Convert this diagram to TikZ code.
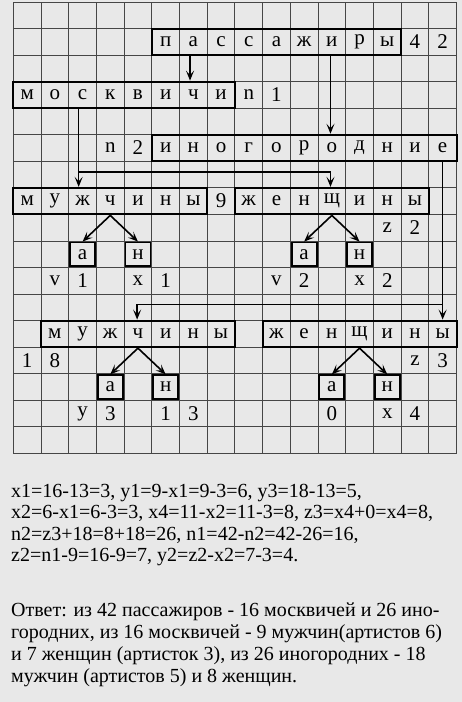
\documentclass[tikz,border=0pt]{standalone}
\usepackage{fontspec}
\setmainfont{Liberation Serif}
\usetikzlibrary{arrows.meta,calc}
\definecolor{paper}{RGB}{232,232,232}
\definecolor{gridc}{RGB}{70,70,70}
\newcommand\wordrow[4]{%
  \foreach \ch [count=\k from 0] in {#4} {\node[cell] (#1-\k) at ({#2+\k+0.5},{#3+0.5}) {\ch};}%
}
\newcommand\wbox[4]{%
  \node[wordbox, minimum width={#3*27.7pt}, minimum height=26.55pt] (#1) at ({#2+#3/2},{#4+0.5}) {};%
}
\newcommand\val[4]{\node[cell] (#1) at ({#2+0.5},{#3+0.5}) {#4};}
\begin{document}
\begin{tikzpicture}[x=1pt,y=-1pt,
  gridline/.style={draw=gridc, line width=0.9pt},
  wordbox/.style={draw=black, line width=2pt, inner sep=0pt},
  cell/.style={inner sep=0pt, font=\fontsize{21}{22}\selectfont},
  smallbox/.style={draw=black, line width=1.8pt, inner sep=0pt, minimum width=25pt, minimum height=23.5pt, font=\fontsize{21}{22}\selectfont},
  conn/.style={line width=1.6pt, -{Stealth[length=10pt,width=8pt,inset=4.5pt]}},
  body/.style={anchor=base west, inner sep=0pt, font=\fontsize{20}{21}\selectfont}
]
\fill[paper] (0,0) rectangle (462,702);
\useasboundingbox (0,0) rectangle (462,702);
\begin{scope}[shift={(13.3,2)}, x=27.7pt, y=-26.55pt]
  \foreach \i in {0,...,16} {\draw[gridline] (\i,0) -- (\i,17);}
  \foreach \j in {0,...,17} {\draw[gridline] (0,\j) -- (16,\j);}
  % words
  \wordrow{pass}{5}{1}{п,а,с,с,а,ж,и,р,ы}
  \wbox{passbox}{5}{9}{1}
  \val{v42a}{14}{1}{4}\val{v42b}{15}{1}{2}
  \wordrow{mosk}{0}{3}{м,о,с,к,в,и,ч,и}
  \wbox{moskbox}{0}{8}{3}
  \val{n1a}{8}{3}{n}\val{n1b}{9}{3}{1}
  \val{n2a}{3}{5}{n}\val{n2b}{4}{5}{2}
  \wordrow{inog}{5}{5}{и,н,о,г,о,р,о,д,н,и,е}
  \wbox{inogbox}{5}{11}{5}
  \wordrow{ma}{0}{7}{м,у,ж,ч,и,н,ы}
  \wbox{mbox7}{0}{7}{7}
  \val{nine}{7}{7}{9}
  \wordrow{wa}{8}{7}{ж,е,н,щ,и,н,ы}
  \wbox{wbox7}{8}{7}{7}
  \val{z2a}{13}{8}{z}\val{z2b}{14}{8}{2}
  \node[smallbox] (a1) at (2.5,9.5) {а};
  \node[smallbox] (h1) at (4.5,9.5) {н};
  \node[smallbox] (a2) at (10.5,9.5) {а};
  \node[smallbox] (h2) at (12.5,9.5) {н};
  \val{r10a}{1}{10}{v}\val{r10b}{2}{10}{1}\val{r10c}{4}{10}{x}\val{r10d}{5}{10}{1}
  \val{r10e}{9}{10}{v}\val{r10f}{10}{10}{2}\val{r10g}{12}{10}{x}\val{r10h}{13}{10}{2}
  \wordrow{mb}{1}{12}{м,у,ж,ч,и,н,ы}
  \wbox{mbox12}{1}{7}{12}
  \wordrow{wb}{9}{12}{ж,е,н,щ,и,н,ы}
  \wbox{wbox12}{9}{7}{12}
  \val{r13a}{0}{13}{1}\val{r13b}{1}{13}{8}\val{r13c}{14}{13}{z}\val{r13d}{15}{13}{3}
  \node[smallbox] (a3) at (3.5,14.5) {а};
  \node[smallbox] (h3) at (5.5,14.5) {н};
  \node[smallbox] (a4) at (11.5,14.5) {а};
  \node[smallbox] (h4) at (13.5,14.5) {н};
  \val{r15a}{2}{15}{y}\val{r15b}{3}{15}{3}\val{r15c}{5}{15}{1}\val{r15d}{6}{15}{3}
  \val{r15e}{11}{15}{0}\val{r15f}{13}{15}{x}\val{r15g}{14}{15}{4}
  % connector coordinates
  \coordinate (px1) at (6.38,0);
  \coordinate (px2) at (11.45,0);
  \coordinate (mx) at (2.36,0);
  \coordinate (br1) at (0,6.4);
  \coordinate (ix) at (15.5,0);
  \coordinate (br2) at (0,11.4);
  \coordinate (mx2) at (4.47,0);
  \draw[conn] (px1 |- passbox.south) -- (px1 |- moskbox.north);
  \draw[conn] (px2 |- passbox.south) -- (px2 |- inogbox.north);
  \draw[conn] (mx |- moskbox.south) -- (mx |- mbox7.north);
  \draw[conn] (mx |- br1) -- (px2 |- br1) -- (px2 |- wbox7.north);
  \draw[conn] (ix |- inogbox.south) -- (ix |- wbox12.north);
  \draw[conn] (ix |- br2) -- (mx2 |- br2) -- (mx2 |- mbox12.north);
  % V arrows
  \coordinate (ap1) at (ma-3 |- mbox7.south);
  \coordinate (ap2) at (wa-3 |- wbox7.south);
  \coordinate (ap3) at (mb-3 |- mbox12.south);
  \coordinate (ap4) at (wb-3 |- wbox12.south);
  \draw[conn] (ap1) -- (a1.north); \draw[conn] (ap1) -- (h1.north);
  \draw[conn] (ap2) -- (a2.north); \draw[conn] (ap2) -- (h2.north);
  \draw[conn] (ap3) -- (a3.north); \draw[conn] (ap3) -- (h3.north);
  \draw[conn] (ap4) -- (a4.north); \draw[conn] (ap4) -- (h4.north);
\end{scope}
% bottom text
\node[body] (t1) at (11,497) {x1=16-13=3, y1=9-x1=9-3=6, y3=18-13=5,};
\node[body] (t2) at (11,518.5) {x2=6-x1=6-3=3, x4=11-x2=11-3=8, z3=x4+0=x4=8,};
\node[body] (t3) at (11,540) {n2=z3+18=8+18=26, n1=42-n2=42-26=16,};
\node[body] (t4) at (11,561.5) {z2=n1-9=16-9=7, y2=z2-x2=7-3=4.};
\node[body] (o1) at (11,616) {Ответ: из 42 пассажиров - 16 москвичей и 26 ино-};
\node[body] (o2) at (11,638) {городних, из 16 москвичей - 9 мужчин(артистов 6)};
\node[body] (o3) at (11,660) {и 7 женщин (артисток 3), из 26 иногородних - 18};
\node[body] (o4) at (11,682) {мужчин (артистов 5) и 8 женщин.};
\end{tikzpicture}
\end{document}
